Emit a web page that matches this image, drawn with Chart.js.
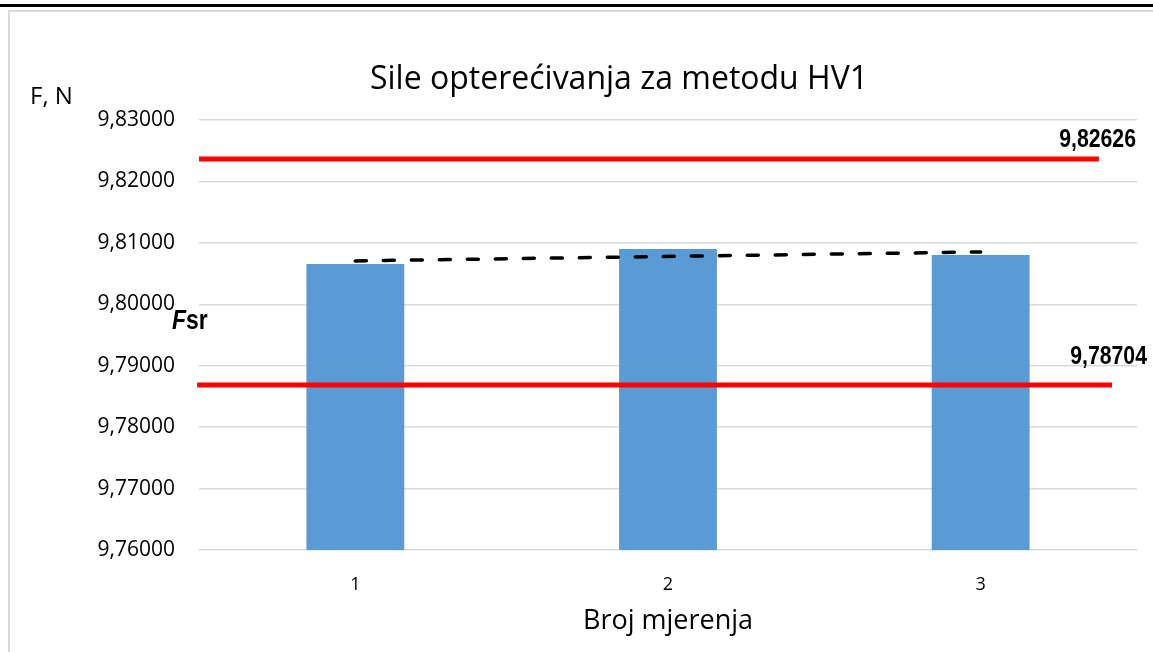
<!DOCTYPE html>
<html>
<head>
<meta charset="utf-8">
<script src="https://cdn.jsdelivr.net/npm/chart.js@4.4.1/dist/chart.umd.min.js"></script>
<style>
  html, body { margin: 0; padding: 0; background: #fff; width: 1153px; height: 652px; overflow: hidden; }
  .topline { position: absolute; left: 0; top: 4px; width: 1153px; height: 3px; background: #000; }
  .frame { position: absolute; left: 8px; top: 10px; width: 1200px; height: 700px; border: 2px solid #d9d9d9; }
  .wrap { position: absolute; left: 0; top: 0; width: 1153px; height: 652px; }
</style>
</head>
<body>
<div class="topline"></div>
<div class="frame"></div>
<div class="wrap"><canvas id="chart"></canvas></div>
<script>
// ── Data ──
const categories = ['1', '2', '3'];
const forces = [9.80656, 9.80900, 9.80802];
const trend = [9.80706, null, 9.80852];          // dashed line, ends only
const yTicks = [9.76, 9.77, 9.78, 9.79, 9.80, 9.81, 9.82, 9.83];

// red limit lines (as drawn) and their labels
const upperLine = [{ x: 0.5, y: 9.82365 }, { x: 3.378, y: 9.82365 }];
const lowerLine = [{ x: 0.494, y: 9.78686 }, { x: 3.42, y: 9.78686 }];
const upperLabel = '9,82626';
const lowerLabel = '9,78704';

const fmt = v => Number(v).toFixed(5).replace('.', ',');

function narrowText(ctx, text, x, y, size, align, italic) {
    ctx.save();
    ctx.translate(x, y);
    ctx.scale(0.85, 1);
    ctx.font = (italic ? 'italic ' : '') + 'bold ' + size + 'px "Liberation Sans", Arial, sans-serif';
    ctx.textAlign = align;
    ctx.textBaseline = 'middle';
    ctx.fillStyle = '#000';
    ctx.fillText(text, 0, 0);
    const w = ctx.measureText(text).width * 0.85;
    ctx.restore();
    return w;
}

const overlay = {
    id: 'overlay',
    afterDraw(chart) {
        const { ctx, chartArea } = chart;
        const y = chart.scales.y;

        // title
        ctx.save();
        ctx.font = '32px "Open Sans", sans-serif';
        ctx.fillStyle = '#000';
        ctx.textAlign = 'center';
        ctx.textBaseline = 'middle';
        ctx.fillText('Sile opterećivanja za metodu HV1', 619, 80);

        // y axis unit
        ctx.font = '24px "Open Sans", sans-serif';
        ctx.textAlign = 'left';
        ctx.fillText('F, N', 30, 97);
        ctx.restore();

        // limit labels
        narrowText(ctx, upperLabel, chartArea.right - 1, y.getPixelForValue(upperLine[0].y) - 19, 25, 'right');
        narrowText(ctx, lowerLabel, chartArea.right + 10, y.getPixelForValue(lowerLine[0].y) - 28, 25, 'right');

        // Fsr label for the dashed line
        const fy = y.getPixelForValue(9.80) + 17;
        const fw = narrowText(ctx, 'F', 172, fy, 27, 'left', true);
        narrowText(ctx, 'sr', 172 + fw, fy, 27, 'left');
    }
};

new Chart(document.getElementById('chart'), {
    type: 'bar',
    data: {
        labels: categories,
        datasets: [
            {
                label: 'F',
                data: forces,
                backgroundColor: '#5b9bd5',
                borderWidth: 0,
                grouped: false,
                categoryPercentage: 1,
                barPercentage: 0.313,
                order: 3,
            },
            {
                type: 'line',
                label: 'Fsr',
                data: trend,
                spanGaps: true,
                borderColor: '#000',
                borderWidth: 3.5,
                borderDash: [11, 17],
                borderCapStyle: 'round',
                pointRadius: 0,
                fill: false,
                order: 1,
            },
            {
                type: 'line',
                label: 'upper',
                data: upperLine,
                xAxisID: 'xLin',
                borderColor: '#ff0000',
                borderWidth: 5,
                borderCapStyle: 'butt',
                pointRadius: 0,
                clip: false,
                order: 0,
            },
            {
                type: 'line',
                label: 'lower',
                data: lowerLine,
                xAxisID: 'xLin',
                borderColor: '#ff0000',
                borderWidth: 5,
                borderCapStyle: 'butt',
                pointRadius: 0,
                clip: false,
                order: 0,
            }
        ]
    },
    options: {
        responsive: true,
        maintainAspectRatio: false,
        animation: false,
        layout: { padding: { left: 0, right: 16, top: 120, bottom: 0 } },
        plugins: {
            legend: { display: false },
            tooltip: { enabled: false }
        },
        scales: {
            x: {
                grid: { display: false, drawTicks: false },
                border: { display: false },
                ticks: { font: { family: 'Open Sans', size: 18 }, color: '#000', padding: 24, maxRotation: 0 },
                title: {
                    display: true,
                    text: 'Broj mjerenja',
                    font: { family: 'Open Sans', size: 27 },
                    color: '#000',
                    padding: { top: 0, bottom: 14.5 }
                },
                afterFit: s => { s.height = 102; }
            },
            xLin: {
                type: 'linear',
                display: false,
                offset: false,
                grid: { offset: false },
                min: 0.5,
                max: 3.5
            },
            y: {
                min: 9.76,
                max: 9.83,
                afterBuildTicks: s => { s.ticks = yTicks.map(v => ({ value: v })); },
                grid: { color: '#d9d9d9', lineWidth: 1.5, drawTicks: false },
                border: { display: false },
                ticks: { font: { family: 'Open Sans', size: 21 }, color: '#000', padding: 24, callback: v => fmt(v) },
                afterFit: s => { s.width = 199; }
            }
        }
    },
    plugins: [overlay]
});
</script>
</body>
</html>
